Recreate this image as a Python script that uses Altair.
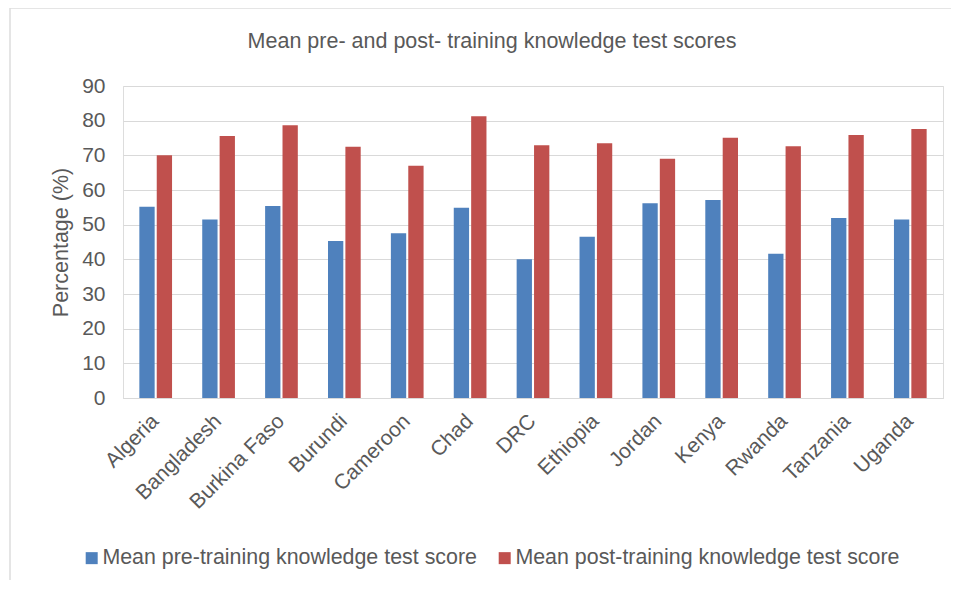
import altair as alt
import pandas as pd

countries = ["Algeria", "Bangladesh", "Burkina Faso", "Burundi", "Cameroon", "Chad",
             "DRC", "Ethiopia", "Jordan", "Kenya", "Rwanda", "Tanzania", "Uganda"]
pre_scores = [55.2, 51.5, 55.4, 45.3, 47.5, 54.9, 40.0, 46.5, 56.2, 57.1, 41.6, 51.9, 51.5]
post_scores = [70.0, 75.6, 78.7, 72.5, 67.0, 81.3, 72.9, 73.5, 69.0, 75.1, 72.6, 75.9, 77.6]
series = ["Mean pre-training knowledge test score", "Mean post-training knowledge test score"]
colors = ["#4F81BD", "#C0504D"]

rows = []
for c, a, b in zip(countries, pre_scores, post_scores):
    rows.append({"Country": c, "Series": series[0], "Value": a})
    rows.append({"Country": c, "Series": series[1], "Value": b})
df = pd.DataFrame(rows)

TXT = "#595959"
FONT = "Liberation Sans"

bars = alt.Chart(df).mark_bar().encode(
    x=alt.X("Country:N", sort=countries,
            scale=alt.Scale(paddingInner=0.48, paddingOuter=0.26),
            axis=alt.Axis(title=None, labelAngle=-45, labelFontSize=21, labelColor=TXT,
                          labelFont=FONT, ticks=False, domain=True, domainColor="#d9d9d9",
                          labelPadding=12, labelOffset=-8, grid=False)),
    xOffset=alt.XOffset("Series:N", sort=series, scale=alt.Scale(paddingInner=0.12)),
    y=alt.Y("Value:Q", scale=alt.Scale(domain=[0, 90]),
            axis=alt.Axis(title="Percentage (%)", values=list(range(0, 91, 10)),
                          labelFontSize=21, labelColor=TXT, labelFont=FONT,
                          titleFontSize=21.5, titleColor=TXT, titleFont=FONT,
                          titleFontWeight="normal", titlePadding=9,
                          ticks=False, domain=False, gridColor="#d9d9d9", labelPadding=18)),
    color=alt.Color("Series:N", sort=series,
                    scale=alt.Scale(domain=series, range=colors),
                    legend=alt.Legend(title=None, orient="none", direction="horizontal",
                                      legendX=-42, legendY=461,
                                      labelFontSize=21.4, labelColor=TXT, labelFont=FONT,
                                      symbolType="square", symbolSize=144,
                                      symbolStrokeWidth=0, labelOffset=0,
                                      columnPadding=17, labelLimit=500)),
)

border = alt.Chart(pd.DataFrame({"k": [0]})).mark_rule(color="#dcdcdc", strokeWidth=1.5).encode(
    x=alt.value(-113), x2=alt.value(830), y=alt.value(-78), y2=alt.value(-78))
border2 = alt.Chart(pd.DataFrame({"k": [0]})).mark_rule(color="#dcdcdc", strokeWidth=1.5).encode(
    x=alt.value(-113), x2=alt.value(-113), y=alt.value(-78), y2=alt.value(500))

chart = alt.layer(bars, border, border2).properties(
    width=820, height=312,
    title=alt.Title("Mean pre- and post- training knowledge test scores",
                    fontSize=21.5, color=TXT, font=FONT, fontWeight="normal",
                    anchor="middle", dx=-41, offset=-45),
    autosize=alt.AutoSizeParams(type="none"),
    padding={"left": 115, "top": 78, "right": 8, "bottom": 182},
).configure_view(stroke=None).configure(background="white")

chart.save("out.html", embed_options={"renderer": "svg", "actions": False})
